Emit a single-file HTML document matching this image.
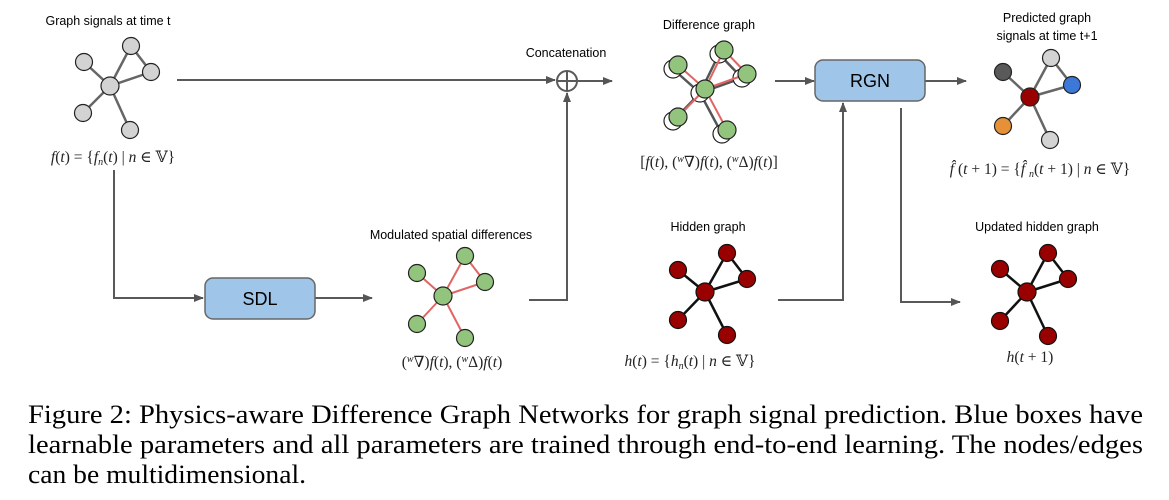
<!DOCTYPE html>
<html><head><meta charset="utf-8"><style>
html,body{margin:0;padding:0;background:#fff;}
svg{display:block;}
.lbl{font-family:"Liberation Sans",sans-serif;font-size:12.5px;fill:#000;text-anchor:middle;}
.math{font-family:"Liberation Serif","DejaVu Serif",serif;font-size:15.5px;fill:#222;text-anchor:middle;}
.cap{font-family:"Liberation Serif",serif;font-size:26px;fill:#000;}
</style></head><body>
<svg width="1169" height="500" viewBox="0 0 1169 500" xmlns="http://www.w3.org/2000/svg">
<defs>
<marker id="ah" markerWidth="10" markerHeight="8" refX="9" refY="4" orient="auto" markerUnits="userSpaceOnUse">
<path d="M0,0 L10,4 L0,8 z" fill="#555"/></marker>
</defs>
<g stroke="#595959" stroke-width="2" fill="none">
<line x1="177" y1="80" x2="555" y2="80" marker-end="url(#ah)"/>
<line x1="578" y1="81" x2="612" y2="81" marker-end="url(#ah)"/>
<polyline points="114,170 114,298 203,298" marker-end="url(#ah)"/>
<line x1="315" y1="298" x2="372" y2="298" marker-end="url(#ah)"/>
<polyline points="529,300 567,300 567,93" marker-end="url(#ah)"/>
<line x1="775" y1="81" x2="814" y2="81" marker-end="url(#ah)"/>
<line x1="925" y1="81" x2="966" y2="81" marker-end="url(#ah)"/>
<polyline points="778,300 843,300 843,103" marker-end="url(#ah)"/>
<polyline points="901,108 901,302 960,302" marker-end="url(#ah)"/>
<circle cx="567" cy="81" r="10"/>
<line x1="557" y1="81" x2="577" y2="81"/><line x1="567" y1="71" x2="567" y2="91"/>
</g>
<rect x="205" y="278" width="110" height="41" rx="8" fill="#9fc5e8" stroke="#666" stroke-width="1.5"/>
<text x="260" y="305" font-family="Liberation Sans,sans-serif" font-size="18" text-anchor="middle">SDL</text>
<rect x="815" y="60" width="110" height="41" rx="8" fill="#9fc5e8" stroke="#666" stroke-width="1.5"/>
<text x="870" y="87" font-family="Liberation Sans,sans-serif" font-size="18" text-anchor="middle">RGN</text>

<!-- Graph 1 gray -->
<g stroke="#666" stroke-width="2.5">
<line x1="110" y1="86" x2="131" y2="46"/><line x1="131" y1="46" x2="151" y2="72"/><line x1="110" y1="86" x2="151" y2="72"/>
<line x1="110" y1="86" x2="84" y2="62"/><line x1="110" y1="86" x2="83" y2="113"/><line x1="110" y1="86" x2="130" y2="130"/>
</g>
<g fill="#d3d3d3" stroke="#222" stroke-width="1.2">
<circle cx="110" cy="86" r="9"/><circle cx="131" cy="46" r="8.5"/><circle cx="151" cy="72" r="8.5"/>
<circle cx="84" cy="62" r="8.5"/><circle cx="83" cy="113" r="8.5"/><circle cx="130" cy="130" r="8.5"/>
</g>
<text class="lbl" x="108" y="25">Graph signals at time t</text>
<text class="math" x="113" y="162"><tspan font-style="italic">f</tspan>(<tspan font-style="italic">t</tspan>) = {<tspan font-style="italic">f<tspan font-size="10" dy="3">n</tspan></tspan><tspan dy="-3">(</tspan><tspan font-style="italic">t</tspan>) | <tspan font-style="italic">n</tspan> ∈ 𝕍}</text>
<text class="lbl" x="566" y="57">Concatenation</text>

<!-- Difference graph -->
<g stroke="#555" stroke-width="2.5">
<line x1="700" y1="93" x2="719" y2="54"/><line x1="719" y1="54" x2="742" y2="78"/><line x1="700" y1="93" x2="742" y2="78"/>
<line x1="700" y1="93" x2="673" y2="69"/><line x1="700" y1="93" x2="673" y2="121"/><line x1="700" y1="93" x2="722" y2="134"/>
</g>
<g fill="#fff" stroke="#222" stroke-width="1.2">
<circle cx="700" cy="93" r="9"/><circle cx="719" cy="54" r="9"/><circle cx="742" cy="78" r="9"/>
<circle cx="673" cy="69" r="9"/><circle cx="673" cy="121" r="9"/><circle cx="722" cy="134" r="9"/>
</g>
<g stroke="#e06666" stroke-width="2">
<line x1="705" y1="89" x2="724" y2="50"/><line x1="724" y1="50" x2="747" y2="74"/><line x1="705" y1="89" x2="747" y2="74"/>
<line x1="705" y1="89" x2="678" y2="65"/><line x1="705" y1="89" x2="678" y2="117"/><line x1="705" y1="89" x2="727" y2="130"/>
</g>
<g fill="#93c47d" stroke="#222" stroke-width="1.2">
<circle cx="705" cy="89" r="9"/><circle cx="724" cy="50" r="9"/><circle cx="747" cy="74" r="9"/>
<circle cx="678" cy="65" r="9"/><circle cx="678" cy="117" r="9"/><circle cx="727" cy="130" r="9"/>
</g>
<text class="lbl" x="709" y="29">Difference graph</text>
<text class="math" x="709" y="167">[<tspan font-style="italic">f</tspan>(<tspan font-style="italic">t</tspan>), (<tspan font-size="10" dy="-5" font-style="italic">w</tspan><tspan dy="5">∇)</tspan><tspan font-style="italic">f</tspan>(<tspan font-style="italic">t</tspan>), (<tspan font-size="10" dy="-5" font-style="italic">w</tspan><tspan dy="5">Δ)</tspan><tspan font-style="italic">f</tspan>(<tspan font-style="italic">t</tspan>)]</text>

<!-- Predicted -->
<g stroke="#666" stroke-width="2.5">
<line x1="1030" y1="97" x2="1051" y2="58"/><line x1="1051" y1="58" x2="1072" y2="85"/><line x1="1030" y1="97" x2="1072" y2="85"/>
<line x1="1030" y1="97" x2="1003" y2="72"/><line x1="1030" y1="97" x2="1003" y2="126"/><line x1="1030" y1="97" x2="1050" y2="140"/>
</g>
<g stroke="#222" stroke-width="1.2">
<circle cx="1030" cy="97" r="9" fill="#990000"/><circle cx="1051" cy="58" r="8.5" fill="#d3d3d3"/><circle cx="1072" cy="85" r="8.5" fill="#3c78d8"/>
<circle cx="1003" cy="72" r="8.5" fill="#595959"/><circle cx="1003" cy="126" r="8.5" fill="#e69138"/><circle cx="1050" cy="140" r="8.5" fill="#d3d3d3"/>
</g>
<text class="lbl" x="1047" y="22">Predicted graph</text>
<text class="lbl" x="1047" y="40">signals at time t+1</text>
<text class="math" x="1040" y="174"><tspan font-style="italic">f̂</tspan> (<tspan font-style="italic">t</tspan> + 1) = {<tspan font-style="italic">f̂</tspan> <tspan font-size="10" dy="3" font-style="italic">n</tspan><tspan dy="-3">(</tspan><tspan font-style="italic">t</tspan> + 1) | <tspan font-style="italic">n</tspan> ∈ 𝕍}</text>

<!-- Modulated -->
<g stroke="#e06666" stroke-width="2">
<line x1="443" y1="296" x2="465" y2="256"/><line x1="465" y1="256" x2="485" y2="282"/><line x1="443" y1="296" x2="485" y2="282"/>
<line x1="443" y1="296" x2="417" y2="273"/><line x1="443" y1="296" x2="417" y2="324"/><line x1="443" y1="296" x2="465" y2="338"/>
</g>
<g fill="#93c47d" stroke="#222" stroke-width="1.2">
<circle cx="443" cy="296" r="9"/><circle cx="465" cy="256" r="8.5"/><circle cx="485" cy="282" r="8.5"/>
<circle cx="417" cy="273" r="8.5"/><circle cx="417" cy="324" r="8.5"/><circle cx="465" cy="338" r="8.5"/>
</g>
<text class="lbl" x="451" y="239">Modulated spatial differences</text>
<text class="math" x="452" y="367">(<tspan font-size="10" dy="-5" font-style="italic">w</tspan><tspan dy="5">∇)</tspan><tspan font-style="italic">f</tspan>(<tspan font-style="italic">t</tspan>), (<tspan font-size="10" dy="-5" font-style="italic">w</tspan><tspan dy="5">Δ)</tspan><tspan font-style="italic">f</tspan>(<tspan font-style="italic">t</tspan>)</text>

<!-- Hidden graph -->
<g stroke="#111" stroke-width="2.5">
<line x1="705" y1="292" x2="727" y2="253"/><line x1="727" y1="253" x2="747" y2="279"/><line x1="705" y1="292" x2="747" y2="279"/>
<line x1="705" y1="292" x2="678" y2="270"/><line x1="705" y1="292" x2="678" y2="320"/><line x1="705" y1="292" x2="727" y2="335"/>
</g>
<g fill="#990000" stroke="#111" stroke-width="1.2">
<circle cx="705" cy="292" r="9"/><circle cx="727" cy="253" r="8.5"/><circle cx="747" cy="279" r="8.5"/>
<circle cx="678" cy="270" r="8.5"/><circle cx="678" cy="320" r="8.5"/><circle cx="727" cy="335" r="8.5"/>
</g>
<text class="lbl" x="708" y="231">Hidden graph</text>
<text class="math" x="690" y="366"><tspan font-style="italic">h</tspan>(<tspan font-style="italic">t</tspan>) = {<tspan font-style="italic">h<tspan font-size="10" dy="3">n</tspan></tspan><tspan dy="-3">(</tspan><tspan font-style="italic">t</tspan>) | <tspan font-style="italic">n</tspan> ∈ 𝕍}</text>

<!-- Updated hidden -->
<g stroke="#111" stroke-width="2.5">
<line x1="1027" y1="292" x2="1048" y2="253"/><line x1="1048" y1="253" x2="1068" y2="279"/><line x1="1027" y1="292" x2="1068" y2="279"/>
<line x1="1027" y1="292" x2="1000" y2="269"/><line x1="1027" y1="292" x2="1000" y2="321"/><line x1="1027" y1="292" x2="1048" y2="336"/>
</g>
<g fill="#990000" stroke="#111" stroke-width="1.2">
<circle cx="1027" cy="292" r="9"/><circle cx="1048" cy="253" r="8.5"/><circle cx="1068" cy="279" r="8.5"/>
<circle cx="1000" cy="269" r="8.5"/><circle cx="1000" cy="321" r="8.5"/><circle cx="1048" cy="336" r="8.5"/>
</g>
<text class="lbl" x="1037" y="231">Updated hidden graph</text>
<text class="math" x="1030" y="362"><tspan font-style="italic">h</tspan>(<tspan font-style="italic">t</tspan> + 1)</text>

<text class="cap" x="28" y="423" textLength="1115" lengthAdjust="spacingAndGlyphs">Figure 2: Physics-aware Difference Graph Networks for graph signal prediction. Blue boxes have</text>
<text class="cap" x="28" y="453" textLength="1115" lengthAdjust="spacingAndGlyphs">learnable parameters and all parameters are trained through end-to-end learning. The nodes/edges</text>
<text class="cap" x="28" y="483" textLength="278" lengthAdjust="spacingAndGlyphs">can be multidimensional.</text>
</svg>
</body></html>
